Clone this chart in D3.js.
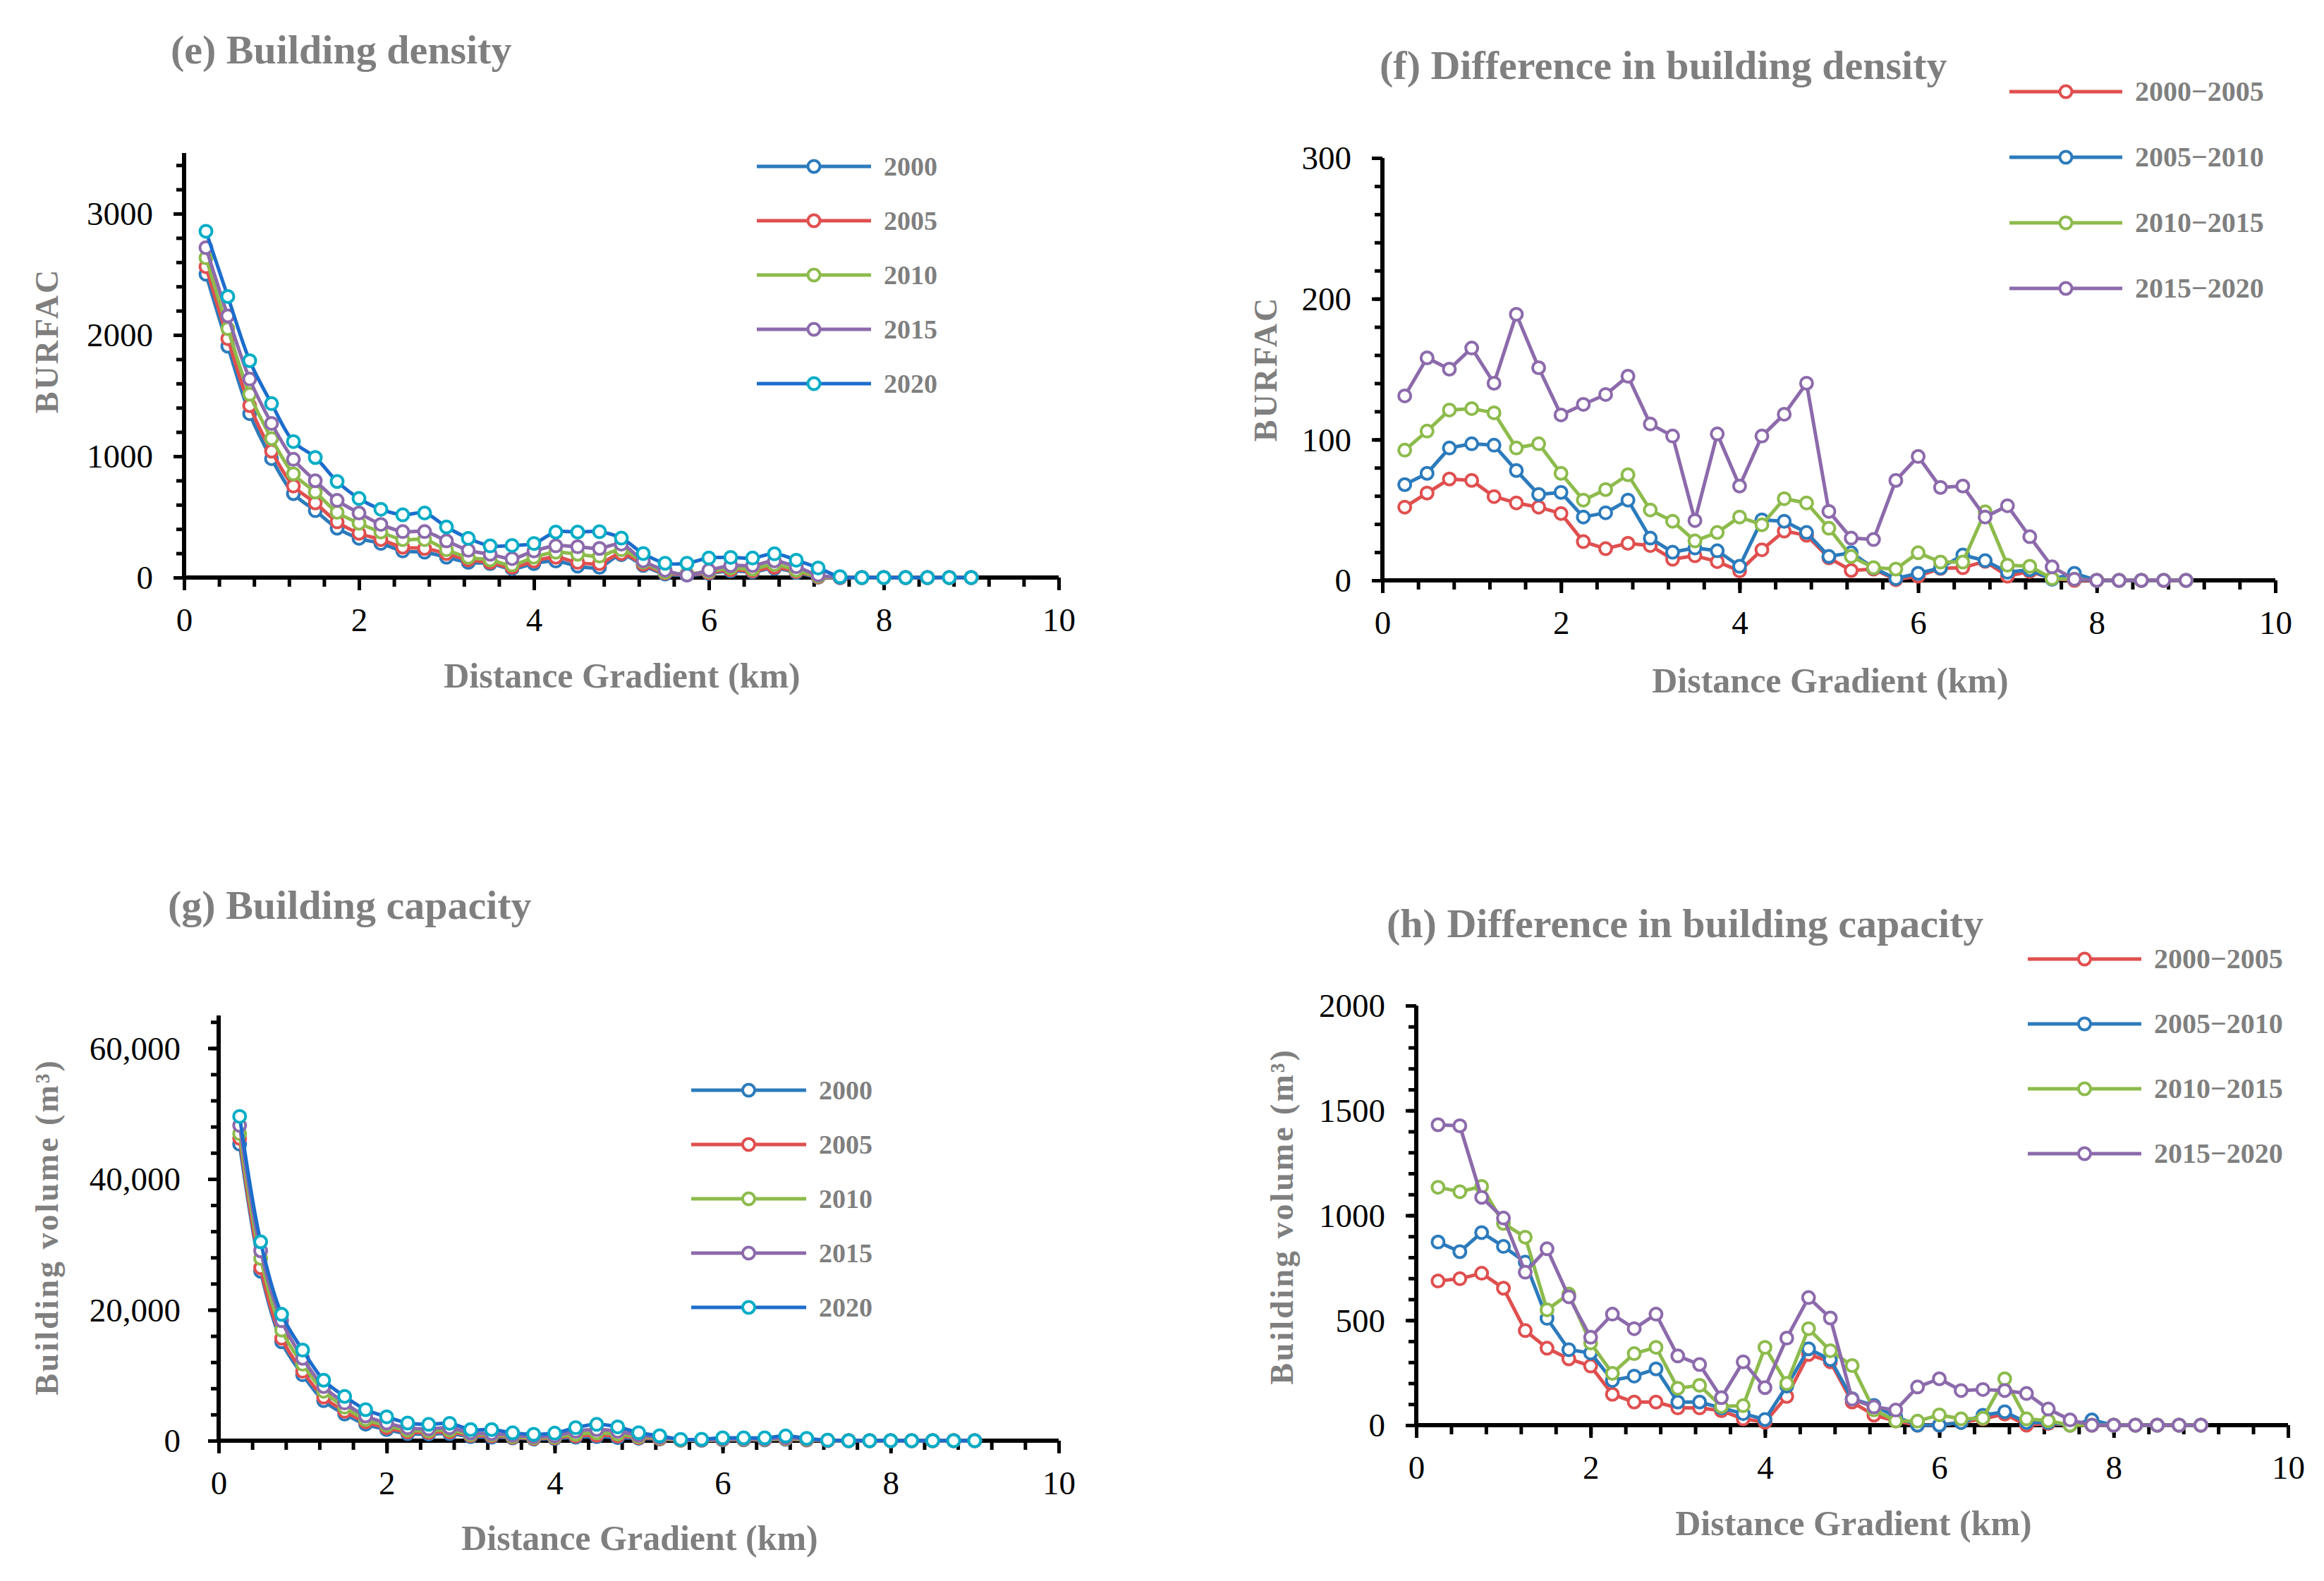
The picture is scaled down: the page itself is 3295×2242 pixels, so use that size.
<!DOCTYPE html>
<html>
<head>
<meta charset="utf-8">
<script src="https://cdn.jsdelivr.net/npm/d3@7"></script>
<style>
  body { margin: 0; background: #fff; }
  svg { display: block; }
  text { font-family: "Liberation Serif", "Times New Roman", serif; }
</style>
</head>
<body>
<div id="chart"></div>
<script>
// distance rings (km)
var distances = [0.25, 0.5, 0.75, 1, 1.25, 1.5, 1.75, 2, 2.25, 2.5, 2.75, 3,
  3.25, 3.5, 3.75, 4, 4.25, 4.5, 4.75, 5, 5.25, 5.5, 5.75, 6,
  6.25, 6.5, 6.75, 7, 7.25, 7.5, 7.75, 8, 8.25, 8.5, 8.75, 9];
var xTickLabels = [0, 2, 4, 6, 8, 10];

// (e) building density
var yearNames = ["2000", "2005", "2010", "2015", "2020"];
var density2000 = [2501, 1907, 1351, 980, 692, 552, 407, 323, 281, 219, 209, 167, 125, 115, 73, 115, 136, 94, 84, 188, 100, 29, 20, 33, 55, 48, 75, 42, 3, 0, 0, 0, 0, 0, 0, 0];
var density2005 = [2563, 1970, 1417, 1042, 755, 615, 459, 365, 313, 250, 240, 198, 146, 125, 84, 136, 167, 125, 115, 198, 110, 37, 25, 40, 65, 55, 85, 50, 6, 0, 0, 0, 0, 0, 0, 0];
var density2010 = [2636, 2053, 1511, 1146, 855, 705, 538, 448, 375, 313, 313, 229, 167, 146, 104, 167, 209, 192, 177, 229, 128, 44, 31, 50, 79, 70, 108, 60, 11, 0, 0, 0, 0, 0, 0, 0];
var density2015 = [2720, 2157, 1636, 1271, 975, 798, 636, 532, 438, 379, 379, 302, 225, 192, 156, 219, 261, 254, 240, 275, 137, 60, 21, 60, 99, 99, 137, 89, 21, 0, 0, 0, 0, 0, 0, 0];
var density2020 = [2855, 2317, 1788, 1434, 1121, 990, 792, 652, 563, 517, 532, 417, 323, 261, 265, 281, 375, 375, 378, 325, 198, 118, 118, 161, 166, 161, 196, 143, 79, 7, 0, 0, 0, 0, 0, 0];
var densityTicks = [0, 1000, 2000, 3000];

// (f) difference in building density
var diffNames = ["2000\u22122005", "2005\u22122010", "2010\u22122015", "2015\u22122020"];
var densDiff1 = [52, 62, 72, 71, 59.5, 55, 52, 47.5, 27.5, 22.5, 26.3, 24.7, 15, 17.5, 13.3, 6.7, 21.7, 35, 32, 16, 7, 8, 0.5, 3, 8.5, 9, 13.5, 3, 6.3, 1.3, 0, 0, 0, 0, 0, 0];
var densDiff2 = [68, 76, 94, 97, 96, 78, 61, 62.5, 45, 48, 57, 30, 20, 23, 21, 10, 43, 42, 34, 17, 19.6, 8.8, 1.3, 5, 8.8, 18, 14, 5.8, 7.5, 0.8, 5, 0, 0, 0, 0, 0];
var densDiff3 = [92.5, 106, 121, 122, 119, 94, 97, 76, 57, 64.5, 75, 50, 42, 28, 34, 45, 39.5, 58, 55, 37, 17, 9, 8, 19.6, 13, 13, 48.7, 10.8, 10, 1.3, 0.8, 0, 0, 0, 0, 0];
var densDiff4 = [131, 158, 150, 165, 140, 189, 151, 117.5, 125, 132, 145, 111, 102.5, 42.5, 104, 67, 102.5, 118, 140, 49, 30, 29, 71, 88, 66, 67, 45, 53, 31, 9.6, 0.8, 0, 0, 0, 0, 0];
var densDiffTicks = [0, 100, 200, 300];

// (g) building capacity
var volume2000 = [45320, 25898, 15107, 10072, 6115, 4065, 2518, 1691, 1079, 1007, 1079, 611, 540, 432, 252, 324, 540, 611, 468, 360, 252, 60, 50, 120, 130, 120, 220, 100, 20, 0, 0, 0, 0, 0, 0, 0];
var volume2005 = [46220, 26438, 15647, 10611, 6654, 4496, 2878, 1978, 1331, 1259, 1331, 791, 719, 540, 360, 432, 719, 827, 719, 468, 324, 80, 70, 150, 170, 160, 280, 140, 30, 0, 0, 0, 0, 0, 0, 0];
var volume2010 = [46940, 27877, 16906, 11690, 7554, 5108, 3237, 2338, 1619, 1511, 1619, 971, 899, 647, 468, 540, 971, 1187, 1007, 611, 432, 100, 90, 200, 220, 200, 350, 180, 40, 0, 0, 0, 0, 0, 0, 0];
var volume2015 = [48200, 29028, 18345, 12590, 8273, 5755, 3777, 2698, 1978, 1799, 1978, 1187, 1079, 827, 611, 719, 1439, 1691, 1439, 827, 540, 150, 120, 250, 280, 250, 450, 250, 50, 0, 0, 0, 0, 0, 0, 0];
var volume2020 = [49567, 30395, 19316, 13848, 9244, 6762, 4748, 3650, 2700, 2500, 2650, 1700, 1700, 1200, 980, 1150, 1990, 2500, 2110, 1220, 750, 200, 215, 430, 430, 430, 716, 358, 72, 0, 0, 0, 0, 0, 0, 0];
var volumeTicks = [0, 20000, 40000, 60000];

// (h) difference in building capacity
var volDiff1 = [687, 698, 724, 653, 451, 367, 316, 282, 147, 110, 110, 82, 82, 69, 30, 14, 137, 337, 302, 110, 48, 20, 0, 0, 13, 30, 53, 0, 8, 0, 0, 0, 0, 0, 0, 0];
var volDiff2 = [873, 827, 918, 852, 777, 509, 360, 344, 213, 234, 268, 110, 110, 82, 55, 27, 186, 364, 313, 126, 94, 40, 0, 0, 13, 47, 64, 13, 13, 0, 25, 0, 0, 0, 0, 0];
var volDiff3 = [1134, 1113, 1138, 962, 896, 550, 625, 392, 247, 341, 371, 176, 190, 89, 93, 371, 199, 460, 355, 284, 73, 20, 19, 49, 30, 33, 221, 30, 21, 0, 0, 0, 0, 0, 0, 0];
var volDiff4 = [1432, 1427, 1086, 987, 729, 841, 612, 419, 529, 460, 529, 330, 289, 131, 302, 179, 415, 608, 511, 124, 87, 72, 182, 221, 165, 170, 165, 151, 77, 25, 0, 0, 0, 0, 0, 0];
var volDiffTicks = [0, 500, 1000, 1500, 2000];

// colours
var blue = "#2c7bbc", red = "#e04f4f", green = "#8dbb4c", purple = "#8c6aab";
var yearLine = [blue, red, green, purple, "#1c6dcc"];
var yearMark = [blue, red, green, purple, "#00adc6"];
var diffLine = [red, blue, green, purple];
var grey = "#7f7f7f";
var serif = '"Liberation Serif", "Times New Roman", serif';

var W = 3295, H = 2242;
var svg = d3.select("#chart").append("svg")
  .attr("width", W)
  .attr("height", H);
svg.append("rect").attr("width", W).attr("height", H).attr("fill", "#fff");

function drawPanel(p) {
  var x = d3.scaleLinear().domain([0, 10]).range([p.left, p.right]);
  var y = d3.scaleLinear().domain([0, p.yMax]).range([p.bottom, p.top]);
  var g = svg.append("g");

  // minor + major ticks on y
  g.append("g")
    .attr("transform", "translate(" + p.left + ",0)")
    .call(d3.axisLeft(y).tickValues(d3.range(0, p.yMax + 1e-6, p.yMinor)).tickSize(11).tickFormat(""))
    .call(function(a) { a.select(".domain").remove(); a.selectAll("line").attr("stroke", "#000").attr("stroke-width", 5); });

  var yAx = g.append("g")
    .attr("transform", "translate(" + p.left + ",0)")
    .attr("font-family", serif)
    .call(d3.axisLeft(y).tickValues(p.yTicks).tickSize(15).tickFormat(p.fmt));
  yAx.attr("font-family", serif);
  yAx.select(".domain").remove();
  yAx.selectAll("line").attr("stroke", "#000").attr("stroke-width", 5);
  yAx.selectAll("text")
    .attr("x", -p.labelGap)
    .attr("dy", "0.34em")
    .style("font-family", serif)
    .style("font-size", "47px")
    .attr("fill", "#000");

  // x ticks
  g.append("g")
    .attr("transform", "translate(0," + p.bottom + ")")
    .call(d3.axisBottom(x).tickValues(d3.range(0, 10.001, 0.4)).tickSize(13).tickFormat(""))
    .call(function(a) { a.select(".domain").remove(); a.selectAll("line").attr("stroke", "#000").attr("stroke-width", 5); });

  var xAx = g.append("g")
    .attr("transform", "translate(0," + p.bottom + ")")
    .call(d3.axisBottom(x).tickValues(xTickLabels).tickSize(18).tickFormat(d3.format("d")));
  xAx.attr("font-family", serif);
  xAx.select(".domain").remove();
  xAx.selectAll("line").attr("stroke", "#000").attr("stroke-width", 5);
  xAx.selectAll("text")
    .attr("y", 76)
    .attr("dy", 0)
    .style("font-family", serif)
    .style("font-size", "47px")
    .attr("fill", "#000");

  // axis lines
  g.append("line")
    .attr("x1", p.left).attr("x2", p.left)
    .attr("y1", p.bottom + 3).attr("y2", p.top)
    .attr("stroke", "#000").attr("stroke-width", 6);
  g.append("line")
    .attr("x1", p.left - 3).attr("x2", p.right)
    .attr("y1", p.bottom).attr("y2", p.bottom)
    .attr("stroke", "#000").attr("stroke-width", 6);

  // series
  var line = d3.line()
    .x(function(d, i) { return x(distances[i]); })
    .y(function(d) { return y(d); })
    .curve(p.smooth ? d3.curveCatmullRom.alpha(0.5) : d3.curveLinear);

  p.series.forEach(function(s, k) {
    g.append("path")
      .datum(s)
      .attr("d", line)
      .attr("fill", "none")
      .attr("stroke", p.lineColors[k])
      .attr("stroke-width", 5)
      .attr("stroke-linejoin", "round");
    g.selectAll(".m" + k)
      .data(s)
      .enter()
      .append("circle")
      .attr("cx", function(d, i) { return x(distances[i]); })
      .attr("cy", function(d) { return y(d); })
      .attr("r", 8.5)
      .attr("fill", "#fff")
      .attr("stroke", p.markColors[k])
      .attr("stroke-width", 4);
  });

  // legend
  p.names.forEach(function(n, k) {
    var ly = p.legY + k * p.legStep;
    g.append("line")
      .attr("x1", p.legX1).attr("x2", p.legX2)
      .attr("y1", ly).attr("y2", ly)
      .attr("stroke", p.lineColors[k]).attr("stroke-width", 5);
    g.append("circle")
      .attr("cx", (p.legX1 + p.legX2) / 2).attr("cy", ly).attr("r", 8.5)
      .attr("fill", "#fff").attr("stroke", p.markColors[k]).attr("stroke-width", 4);
    g.append("text")
      .attr("x", p.legX2 + 18).attr("y", ly + 13)
      .attr("fill", grey)
      .style("font-size", p.legFont + "px")
      .style("font-weight", "bold")
      .text(n);
  });

  // titles
  g.append("text")
    .attr("x", p.titleX).attr("y", p.titleY)
    .attr("fill", grey)
    .style("font-size", "58px").style("font-weight", "bold")
    .text(p.title);
  g.append("text")
    .attr("x", p.xTitleX).attr("y", p.xTitleY)
    .attr("text-anchor", "middle")
    .attr("fill", grey)
    .style("font-size", "50px").style("font-weight", "bold")
    .text("Distance Gradient (km)");
  g.append("text")
    .attr("transform", "translate(" + p.yTitleX + "," + p.yTitleY + ") rotate(-90)")
    .attr("text-anchor", "middle")
    .attr("dy", "0.35em")
    .attr("fill", grey)
    .style("font-size", "46px").style("font-weight", "bold")
    .style("letter-spacing", "3px")
    .text(p.yTitle);
}

drawPanel({
  left: 261, right: 1501, bottom: 819, top: 217, yMax: 3500, yMinor: 200,
  yTicks: densityTicks, fmt: d3.format("d"), labelGap: 44, smooth: true,
  series: [density2000, density2005, density2010, density2015, density2020],
  names: yearNames, lineColors: yearLine, markColors: yearMark,
  legX1: 1073, legX2: 1235, legY: 236, legStep: 77, legFont: 38,
  title: "(e) Building density", titleX: 242, titleY: 90,
  xTitleX: 882, xTitleY: 975, yTitle: "BURFAC", yTitleX: 66, yTitleY: 483
});

drawPanel({
  left: 1960, right: 3226, bottom: 823, top: 224, yMax: 300, yMinor: 20,
  yTicks: densDiffTicks, fmt: d3.format("d"), labelGap: 44, smooth: false,
  series: [densDiff1, densDiff2, densDiff3, densDiff4],
  names: diffNames, lineColors: diffLine, markColors: diffLine,
  legX1: 2849, legX2: 3009, legY: 130, legStep: 93, legFont: 40,
  title: "(f) Difference in building density", titleX: 1956, titleY: 112,
  xTitleX: 2595, xTitleY: 982, yTitle: "BURFAC", yTitleX: 1794, yTitleY: 523
});

drawPanel({
  left: 310, right: 1501, bottom: 2043, top: 1440, yMax: 65000, yMinor: 4000,
  yTicks: volumeTicks, fmt: d3.format(","), labelGap: 54, smooth: true,
  series: [volume2000, volume2005, volume2010, volume2015, volume2020],
  names: yearNames, lineColors: yearLine, markColors: yearMark,
  legX1: 980, legX2: 1143, legY: 1546, legStep: 77, legFont: 38,
  title: "(g) Building capacity", titleX: 238, titleY: 1303,
  xTitleX: 907, xTitleY: 2198, yTitle: "Building volume (m\u00b3)", yTitleX: 66, yTitleY: 1740
});

drawPanel({
  left: 2008, right: 3244, bottom: 2021, top: 1426, yMax: 2000, yMinor: 100,
  yTicks: volDiffTicks, fmt: d3.format("d"), labelGap: 44, smooth: false,
  series: [volDiff1, volDiff2, volDiff3, volDiff4],
  names: diffNames, lineColors: diffLine, markColors: diffLine,
  legX1: 2875, legX2: 3036, legY: 1360, legStep: 92, legFont: 40,
  title: "(h) Difference in building capacity", titleX: 1966, titleY: 1329,
  xTitleX: 2628, xTitleY: 2177, yTitle: "Building volume (m\u00b3)", yTitleX: 1817, yTitleY: 1725
});
</script>
</body>
</html>
